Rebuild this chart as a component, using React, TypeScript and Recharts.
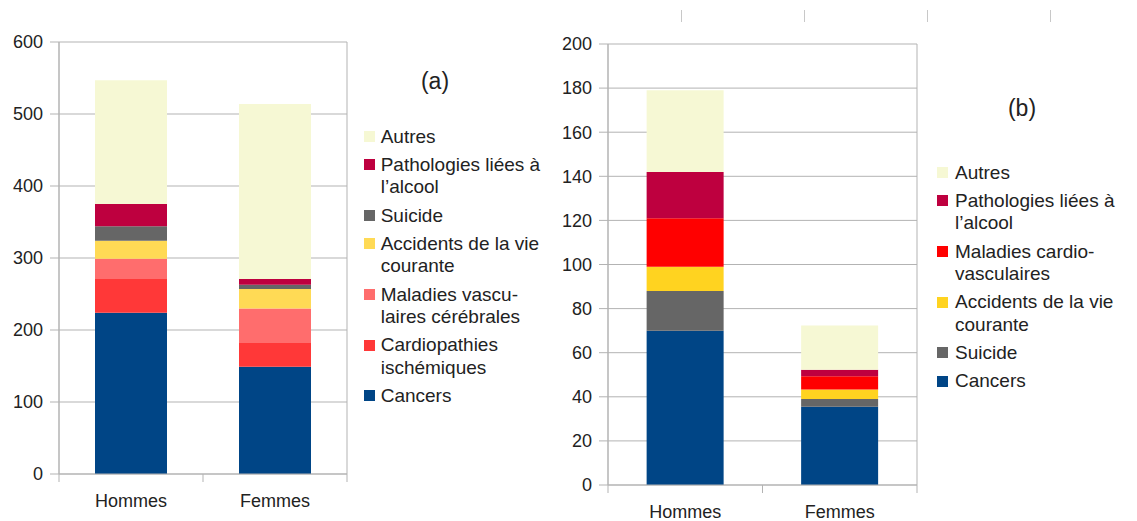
import { Bar, BarChart, CartesianGrid, XAxis, YAxis } from "recharts";

// categories
const categories = ["Hommes", "Femmes"];

// (a) values, bottom to top
const cancersA = [224, 149];
const cardiopathiesA = [47, 33];
const vasculairesA = [28, 48];
const accidentsA = [25, 27];
const suicideA = [20, 6];
const alcoolA = [31, 8];
const autresA = [172, 243];
const ticksA = [0, 100, 200, 300, 400, 500, 600];

// (b) values, bottom to top
const cancersB = [70, 35.5];
const suicideB = [18, 3.5];
const accidentsB = [11, 4.3];
const cardioB = [22, 6];
const alcoolB = [21, 3];
const autresB = [37, 20];
const ticksB = [0, 20, 40, 60, 80, 100, 120, 140, 160, 180, 200];

const FONT = "'Liberation Sans', Arial, sans-serif";
const GRID = "#b3b3b3";
const TEXT = "#222";

const seriesA = [
    { key: "cancers", label: ["Cancers"], color: "#004586", values: cancersA },
    { key: "cardiopathies", label: ["Cardiopathies", "ischémiques"], color: "#ff3838", values: cardiopathiesA },
    { key: "vasculaires", label: ["Maladies vascu-", "laires cérébrales"], color: "#ff6d6d", values: vasculairesA },
    { key: "accidents", label: ["Accidents de la vie", "courante"], color: "#ffda55", values: accidentsA },
    { key: "suicide", label: ["Suicide"], color: "#666666", values: suicideA },
    { key: "alcool", label: ["Pathologies liées à", "l’alcool"], color: "#be003f", values: alcoolA },
    { key: "autres", label: ["Autres"], color: "#f6f8d4", values: autresA },
];

const seriesB = [
    { key: "cancers", label: ["Cancers"], color: "#004586", values: cancersB },
    { key: "suicide", label: ["Suicide"], color: "#666666", values: suicideB },
    { key: "accidents", label: ["Accidents de la vie", "courante"], color: "#ffd320", values: accidentsB },
    { key: "cardio", label: ["Maladies cardio-", "vasculaires"], color: "#ff0000", values: cardioB },
    { key: "alcool", label: ["Pathologies liées à", "l’alcool"], color: "#be003f", values: alcoolB },
    { key: "autres", label: ["Autres"], color: "#f6f8d4", values: autresB },
];

type Series = { key: string; label: string[]; color: string; values: number[] };

function buildRows(series: Series[]) {
    return categories.map((name, i) => {
        const row: Record<string, number | string> = { name };
        series.forEach((s) => (row[s.key] = s.values[i]));
        return row;
    });
}

function makeTick(halfBand: number, labelDy: number) {
    return (props: any) => {
        const { x, y, payload } = props;
        const index = props.index ?? payload.index ?? 0;
        return (
            <g>
                <line x1={x - halfBand} x2={x - halfBand} y1={y} y2={y + 8} stroke={GRID} />
                {index === categories.length - 1 && (
                    <line x1={x + halfBand} x2={x + halfBand} y1={y} y2={y + 8} stroke={GRID} />
                )}
                <text x={x} y={y + labelDy} textAnchor="middle" fill={TEXT} fontSize={18} fontFamily={FONT}>
                    {payload.value}
                </text>
            </g>
        );
    };
}

const edges = ({ offset }: any) => [offset.left, offset.left + offset.width];

function StackChart({
    series, ticks, width, yWidth, margin, left,
}: {
    series: Series[]; ticks: number[]; width: number; yWidth: number;
    margin: { top: number; right: number; bottom: number; left: number }; left: number;
}) {
    const plotWidth = width - margin.left - margin.right - yWidth;
    const halfBand = plotWidth / categories.length / 2;
    return (
        <div style={{ position: "absolute", left, top: 0 }}>
            <BarChart width={width} height={521} data={buildRows(series)} margin={margin} barCategoryGap="25%">
                <CartesianGrid stroke={GRID} verticalCoordinatesGenerator={edges} />
                <XAxis
                    dataKey="name"
                    axisLine={{ stroke: GRID }}
                    tickLine={false}
                    tickSize={0}
                    tickMargin={0}
                    interval={0}
                    height={30}
                    tick={makeTick(halfBand, 32.5)}
                />
                <YAxis
                    domain={[0, ticks[ticks.length - 1]]}
                    ticks={ticks}
                    interval={0}
                    width={yWidth}
                    tickSize={9}
                    tickMargin={7}
                    axisLine={{ stroke: GRID }}
                    tickLine={{ stroke: GRID }}
                    tick={{ fill: TEXT, fontSize: 18, fontFamily: FONT }}
                />
                {series.map((s) => (
                    <Bar key={s.key} dataKey={s.key} stackId="a" fill={s.color} isAnimationActive={false} />
                ))}
            </BarChart>
        </div>
    );
}

function LegendBox({ series, left, top, square }: { series: Series[]; left: number; top: number; square: number }) {
    return (
        <div style={{ position: "absolute", left, top, fontFamily: FONT, fontSize: 19, color: TEXT, lineHeight: "22.4px" }}>
            {[...series].reverse().map((s) => (
                <div key={s.key} style={{ position: "relative", paddingLeft: square, marginBottom: 5.9 }}>
                    <span
                        style={{
                            position: "absolute", left: 0, top: 5.5, width: 11, height: 11, background: s.color,
                        }}
                    />
                    {s.label.map((l) => (
                        <div key={l} style={{ whiteSpace: "nowrap" }}>{l}</div>
                    ))}
                </div>
            ))}
        </div>
    );
}

export default function App() {
    return (
        <div style={{ position: "absolute", left: 0, top: 0, width: 1137, height: 521, background: "#fff", overflow: "hidden" }}>
            {[681, 804, 927, 1050].map((x) => (
                <div key={x} style={{ position: "absolute", left: x, top: 10, width: 1, height: 12, background: "#c8c8c8" }} />
            ))}
            <StackChart series={seriesA} ticks={ticksA} width={360} yWidth={59} left={0}
                margin={{ top: 42, right: 13, bottom: 17, left: 0 }} />
            <StackChart series={seriesB} ticks={ticksB} width={380} yWidth={58} left={550}
                margin={{ top: 44, right: 13, bottom: 6, left: 0 }} />
            <div style={{ position: "absolute", left: 405, top: 68, width: 60, textAlign: "center", fontFamily: FONT, fontSize: 23, color: TEXT }}>(a)</div>
            <div style={{ position: "absolute", left: 992, top: 95, width: 60, textAlign: "center", fontFamily: FONT, fontSize: 23, color: TEXT }}>(b)</div>
            <LegendBox series={seriesA} left={364} top={125.5} square={16.7} />
            <LegendBox series={seriesB} left={937} top={161.5} square={18} />
        </div>
    );
}
